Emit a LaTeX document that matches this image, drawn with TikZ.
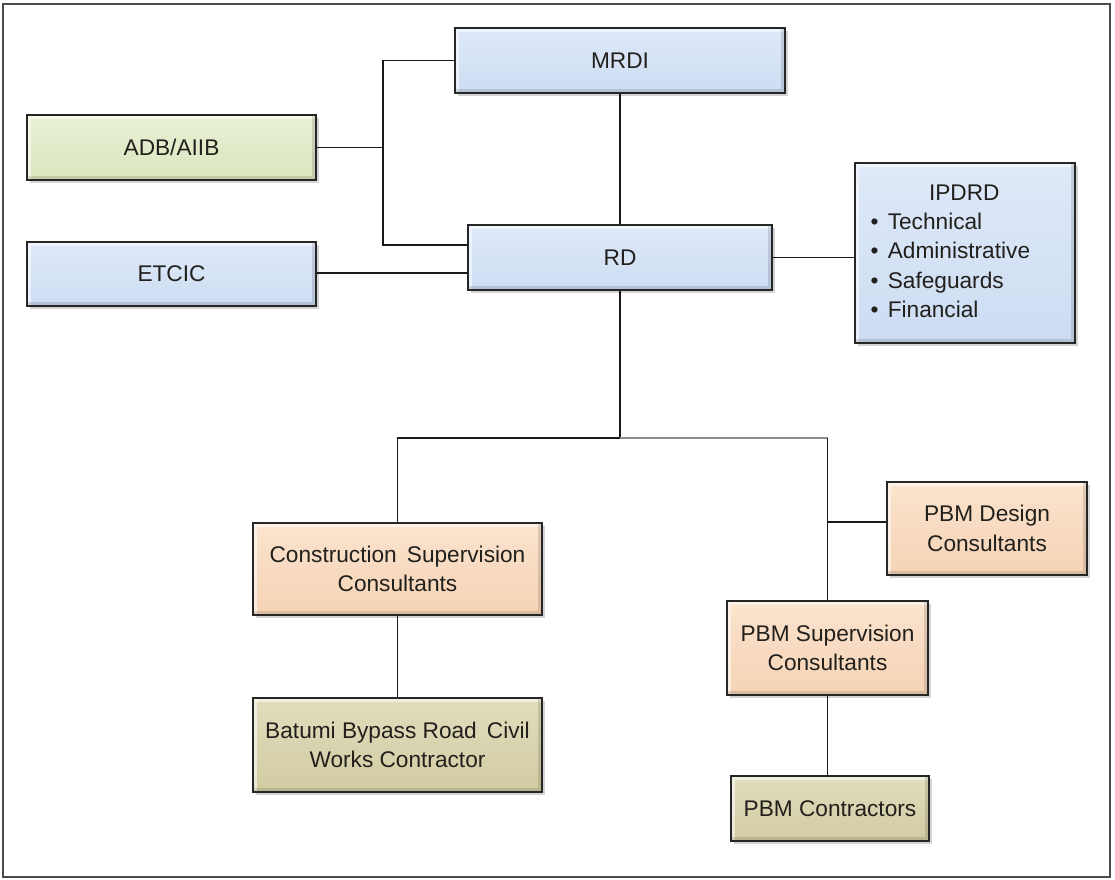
\documentclass[tikz,border=0pt]{standalone}
\usepackage{fontspec}
\setmainfont{Liberation Sans}
\usetikzlibrary{shadows,calc}
\definecolor{bluebox}{RGB}{204,220,243}
\definecolor{bluetop}{RGB}{222,233,249}
\definecolor{greenbox}{RGB}{220,231,192}
\definecolor{greentop}{RGB}{234,241,214}
\definecolor{peachbox}{RGB}{246,212,182}
\definecolor{peachtop}{RGB}{251,228,206}
\definecolor{olivebox}{RGB}{210,204,162}
\definecolor{olivetop}{RGB}{226,222,188}
\definecolor{edgec}{RGB}{38,38,38}
\definecolor{textc}{RGB}{34,32,28}
\tikzset{
  orgbox/.style={draw=edgec, line width=2.2pt, inner sep=0pt, align=center,
    font=\fontsize{17}{22}\selectfont, text=textc,
    drop shadow={opacity=0.35, shadow xshift=2.5pt, shadow yshift=-2.5pt},
    path picture={
      \draw[white, opacity=0.55, line width=6pt]
        (path picture bounding box.south west) -- (path picture bounding box.north west)
        -- (path picture bounding box.north east);
      \draw[black, opacity=0.12, line width=6pt]
        (path picture bounding box.north east) -- (path picture bounding box.south east)
        -- (path picture bounding box.south west);
    }},
  bluefill/.style={top color=bluetop, bottom color=bluebox, middle color=bluebox!80!white},
  greenfill/.style={top color=greentop, bottom color=greenbox, middle color=greenbox!85!white},
  peachfill/.style={top color=peachtop, bottom color=peachbox, middle color=peachbox!85!white},
  olivefill/.style={top color=olivetop, bottom color=olivebox, middle color=olivebox!85!white},
  link/.style={draw=black!90, line width=1.3pt},
  faintlink/.style={draw=black!45, line width=1.3pt},
}
\begin{document}
\begin{tikzpicture}[x=0.75pt,y=-0.75pt]
\useasboundingbox (0,0) rectangle (1115,880);
\draw[draw=black!70, line width=1.5pt] (3,4) rectangle (1110,877);

\node[orgbox, bluefill, minimum width=247.5pt, minimum height=48.75pt] (mrdi) at (620,60.5) {MRDI};
\node[orgbox, greenfill, minimum width=216.75pt, minimum height=48.75pt] (adb) at (171.5,147.5) {ADB/AIIB};
\node[orgbox, bluefill, minimum width=216.75pt, minimum height=48pt] (etcic) at (171.5,274) {ETCIC};
\node[orgbox, bluefill, minimum width=228pt, minimum height=48.75pt] (rd) at (620,257.5) {RD};
\node[orgbox, bluefill, minimum width=165pt, minimum height=135pt] (ipdrd) at (965,253)
  {\begin{tabular}{@{}l@{\hspace{7pt}}l@{}}
   \multicolumn{2}{@{}c@{}}{\hspace{21pt}IPDRD}\\
   \textbullet & Technical\\ \textbullet & Administrative\\ \textbullet & Safeguards\\ \textbullet & Financial\end{tabular}\kern22pt};
\node[orgbox, peachfill, minimum width=216.75pt, minimum height=69pt] (csc) at (397.5,569) {Construction\, Supervision\\Consultants};
\node[orgbox, olivefill, minimum width=216.75pt, minimum height=70.5pt] (batumi) at (397.5,745) {Batumi Bypass Road\, Civil\\Works Contractor};
\node[orgbox, peachfill, minimum width=150pt, minimum height=69.75pt] (pbmd) at (987,528.5) {PBM Design\\Consultants};
\node[orgbox, peachfill, minimum width=150.75pt, minimum height=70.5pt] (pbms) at (827.5,648) {PBM Supervision\\Consultants};
\node[orgbox, olivefill, minimum width=148.5pt, minimum height=48.75pt] (pbmc) at (830,808.5) {PBM Contractors};

\coordinate (bus) at (383,0);
\coordinate (hub) at (620,438);
\coordinate (rdinA) at ([yshift=9.4pt]rd.west);
\coordinate (rdinB) at ([yshift=-11.6pt]rd.west);
\coordinate (pbmdin) at ([yshift=4.9pt]pbmd.west);

% left bus
\draw[link] (mrdi.west) -- (mrdi.west -| bus) -- (bus |- rdinA) -- (rdinA);
\draw[link] (adb.east) -- (adb.east -| bus);
\draw[link] (rdinB -| etcic.east) -- (rdinB);
% MRDI - RD
\draw[link] (mrdi.south) -- (rd.north);
% RD - IPDRD
\draw[link] (rd.east) -- (rd.east -| ipdrd.west);
% RD down
\draw[link] (rd.south) -- (hub);
\draw[link] (hub) -| (csc.north);
\draw[faintlink] (hub) -- (hub -| pbms.north);
\draw[link] (hub -| pbms.north) -- (pbms.north);
\draw[link] (pbmdin) -- (pbmdin -| pbms.north);
% lower links
\draw[link] (csc.south) -- (batumi.north);
\draw[link] (pbms.south) -- (pbms.south |- pbmc.north);
\end{tikzpicture}
\end{document}
